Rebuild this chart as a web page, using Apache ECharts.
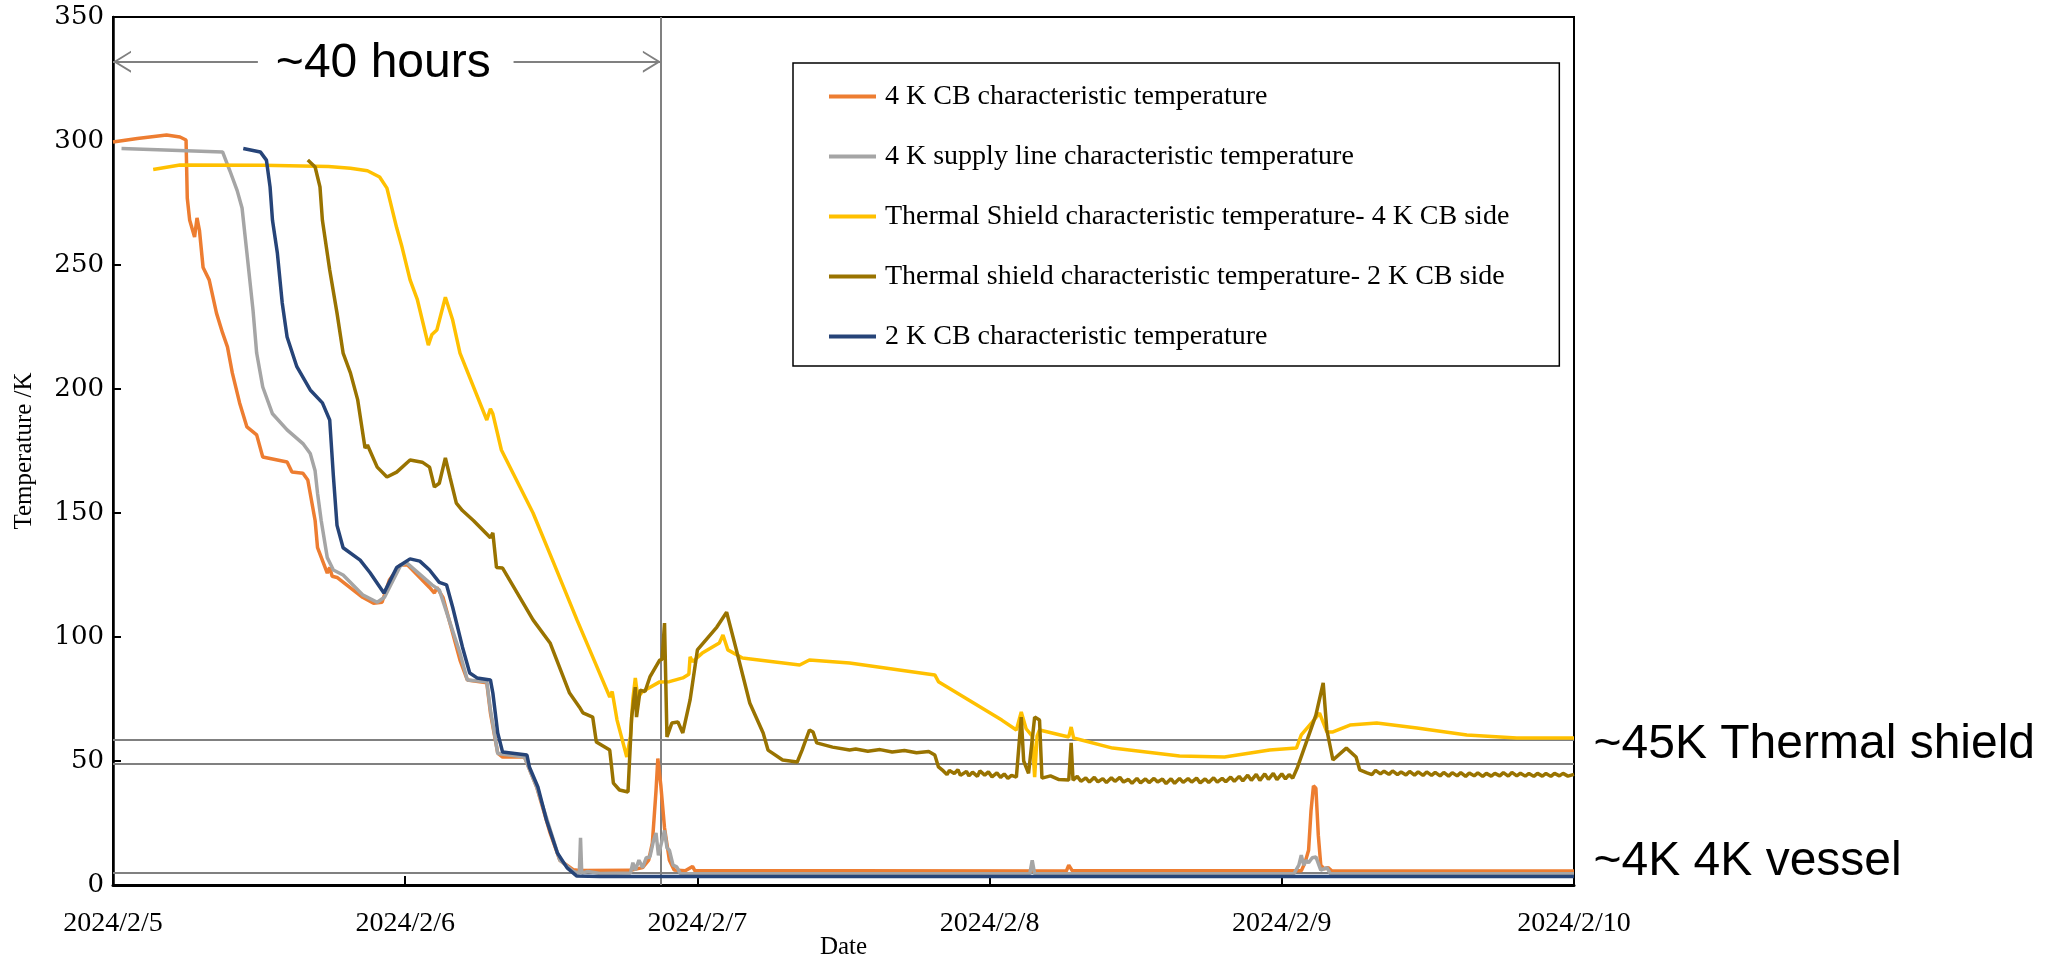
<!DOCTYPE html>
<html>
<head>
<meta charset="utf-8">
<title>Cool-down characteristic temperatures</title>
<script src="https://cdn.jsdelivr.net/npm/echarts@6/dist/echarts.min.js"></script>
<style>
    html, body { margin: 0; padding: 0; background: #fff; }
    #main { width: 2056px; height: 963px; }
</style>
</head>
<body>
<div id="main"></div>
<script>
// x values are hours since 2024/2/5 00:00, y values are Kelvin
const dateLabels = ['2024/2/5', '2024/2/6', '2024/2/7', '2024/2/8', '2024/2/9', '2024/2/10'];
const seriesNames = [
    '4 K CB characteristic temperature',
    '4 K supply line characteristic temperature',
    'Thermal Shield characteristic temperature- 4 K CB side',
    'Thermal shield characteristic temperature- 2 K CB side',
    '2 K CB characteristic temperature'
];

const cb4kTemp = [
    [0, 299.6], [2, 301], [4.4, 302.4], [5.5, 301.6], [6.0, 300.4], [6.1, 277], [6.3, 268], [6.7, 261.3],
    [6.9, 269], [7.1, 264], [7.4, 249], [7.9, 244], [8.5, 230.6], [9.0, 222.6], [9.4, 217], [9.8, 206.5],
    [10.4, 194.4], [11.0, 184.7], [11.8, 181.5], [12.3, 172.6], [14.3, 170.6], [14.7, 166.5], [15.6, 166],
    [16.0, 163.3], [16.6, 147], [16.8, 136], [17.6, 125.8], [17.8, 128], [18.0, 124.5], [18.4, 124],
    [20.5, 116], [21.4, 113.6], [22.1, 114], [22.7, 123], [23.6, 129], [24.2, 129], [26.0, 120],
    [26.4, 117.7], [26.6, 120], [27.1, 116], [28.5, 90.7], [29.1, 82.7], [30.7, 81.5], [31.0, 69.4],
    [31.6, 53.2], [32.0, 51.6], [33.8, 51.6], [34.8, 39.5], [35.9, 21], [36.7, 10], [37.8, 6.2], [38.5, 5.8],
    [42.5, 5.9], [43.5, 7], [44.0, 10], [44.3, 17], [44.6, 38], [44.75, 51], [45.0, 40], [45.3, 23],
    [45.7, 10], [46.1, 6], [47.0, 5.7], [47.6, 7.5], [47.8, 5.7], [60, 5.7], [78.3, 5.6], [78.5, 8],
    [78.8, 5.7], [97.6, 5.7], [97.9, 9], [98.2, 14], [98.4, 30], [98.6, 40], [98.8, 39], [99.0, 20],
    [99.2, 8], [99.5, 6.5], [99.8, 7], [100.1, 5.7], [120, 5.6]
];

const supplyLineTemp = [
    [0.7, 297], [9.0, 295.6], [9.6, 288], [10.2, 280], [10.6, 273], [11.0, 254.8], [11.5, 231.8],
    [11.8, 214.5], [12.3, 200.8], [13.1, 190], [14.3, 183.5], [15.6, 178], [16.2, 174], [16.6, 167],
    [16.8, 158], [17.1, 147], [17.6, 132], [18.1, 127], [18.9, 125], [20.5, 117], [21.7, 114], [22.3, 116],
    [23.6, 128.6], [24.1, 130], [26.2, 121], [26.8, 119], [28.5, 93.5], [29.1, 82.7], [30.7, 82],
    [31.0, 70.6], [31.6, 53], [33.8, 51.6], [34.8, 39.5], [35.9, 22.5], [36.7, 10], [37.8, 5.5],
    [38.3, 4.8], [38.4, 19], [38.5, 4.8], [39, 5.5], [40, 4.6], [42.5, 4.8], [42.7, 9], [42.9, 6],
    [43.2, 10], [43.5, 7], [43.8, 11], [44.1, 11.3], [44.4, 18], [44.6, 21], [44.8, 12], [45.0, 16],
    [45.3, 22], [45.5, 15], [45.7, 14], [46.0, 8], [46.3, 7.3], [46.6, 4.6], [60, 4.5], [75.3, 4.5],
    [75.5, 10], [75.7, 4.5], [97.0, 4.6], [97.4, 8], [97.6, 12], [97.8, 8], [98.0, 10], [98.2, 9],
    [98.5, 11], [98.8, 11.3], [99.2, 6], [99.7, 7], [100, 4.5], [120, 4.5]
];

const shield4kSideTemp = [
    [3.3, 288.5], [5.5, 290.3], [12.3, 290.2], [17.7, 289.7], [19.5, 289], [20.9, 288], [21.9, 285.5],
    [22.5, 281], [23.3, 265], [23.7, 258], [24.4, 244], [25.0, 236], [25.9, 217.7], [26.2, 222],
    [26.6, 223.8], [27.3, 237], [27.9, 227.8], [28.5, 214.5], [30.7, 187.5], [31.0, 192], [31.2, 190],
    [31.9, 175.4], [34.5, 150], [36.1, 131], [38.1, 107], [39.4, 92], [40.8, 75.8], [41.0, 78],
    [41.4, 66.5], [42.2, 51.6], [42.5, 60], [42.7, 75], [42.9, 83.5], [43.1, 75.8], [43.5, 78],
    [44.9, 81.9], [45.7, 82], [46.8, 83.5], [47.3, 85], [47.4, 92], [47.6, 90], [48.4, 93.5],
    [49.8, 97.6], [50.1, 100.8], [50.5, 94.8], [51.7, 91.5], [56.4, 88.7], [57.2, 90.7], [60.5, 89.5],
    [67.5, 84.7], [67.8, 82], [73.0, 66.5], [74.2, 62.5], [74.6, 69.8], [75.0, 63], [75.5, 60],
    [75.7, 43.5], [75.9, 60], [76.1, 62.5], [78.5, 59.7], [78.7, 63.7], [78.9, 59.3], [82.1, 55.2],
    [87.6, 52], [91.3, 51.6], [95.0, 54.4], [97.2, 55.2], [97.6, 60.5], [98.5, 65.7], [99.1, 69.3],
    [99.7, 61.7], [100.2, 61.7], [101.6, 64.5], [103.8, 65.3], [107.1, 63.3], [111.2, 60.5],
    [115.3, 59.3], [120, 59.3]
];

const shield2kSideTemp = [
    [16.0, 292.3], [16.6, 289.5], [17.0, 281.5], [17.2, 268], [17.8, 248], [18.4, 230.6], [18.9, 214.5],
    [19.5, 206.5], [20.1, 195.6], [20.7, 176.2], [20.9, 177.4], [21.7, 168.5], [22.5, 164.5],
    [23.3, 166.5], [24.4, 171.4], [25.4, 170.5], [26.0, 168.5], [26.4, 160.5], [26.8, 162], [27.3, 172.2],
    [27.7, 164], [28.2, 154], [28.7, 151], [29.6, 147], [31.0, 140], [31.2, 142], [31.5, 128], [32.0, 127.8],
    [34.5, 106.9], [35.9, 97.6], [37.5, 77.4], [38.3, 71.8], [38.6, 69.4], [39.4, 67.7], [39.7, 57.7],
    [40.8, 54.4], [41.1, 41.1], [41.6, 38.3], [42.3, 37.5], [42.6, 67.7], [42.9, 79.8], [43.0, 67.7],
    [43.3, 78.6], [43.7, 78], [44.1, 83.9], [44.9, 90.7], [45.1, 91], [45.3, 105.6], [45.5, 59.7],
    [45.9, 65.3], [46.4, 65.7], [46.8, 61.3], [47.4, 74.6], [48.0, 94.8], [49.6, 104], [50.4, 110],
    [51.2, 94.8], [52.3, 73.4], [53.4, 61.3], [53.8, 54.4], [55.0, 50.4], [56.2, 49.6], [56.6, 54.4],
    [57.2, 62.5], [57.5, 61.7], [57.8, 57.3], [59.1, 55.6], [60.5, 54.4], [61, 54.8], [62, 53.9],
    [63, 54.6], [64, 53.6], [65, 54.2], [66, 53.3], [67, 53.8], [67.5, 52.4], [67.8, 47.6], [68.2, 46],
    [68.5, 44.5], [68.7, 46.2], [69.1, 45], [69.4, 46.5], [69.6, 44.2], [70.1, 45.8], [70.3, 44],
    [70.6, 45.5], [71.0, 43.8], [71.2, 46], [71.6, 44.3], [71.9, 45.6], [72.2, 43.6], [72.6, 45.2],
    [72.9, 43.4], [73.2, 44.8], [73.5, 43], [73.8, 44.2], [74.2, 43.5], [74.6, 67.7],
    [74.8, 50], [75.2, 45], [75.7, 67.7], [76.1, 66.5], [76.3, 43.1], [77, 44], [77.7, 42.5], [78.5, 42.3],
    [78.7, 57.3], [78.85, 42.3], [79.2, 43.8], [79.5, 41.8], [79.9, 43.2], [80.2, 41.5], [80.6, 43.4],
    [80.9, 41.6], [81.3, 42.9], [81.6, 41.3], [82.0, 43.2], [82.3, 41.8], [82.7, 43.4], [83, 41.5],
    [83.4, 42.6], [83.7, 41], [84.1, 43], [84.4, 41.2], [84.8, 42.8], [85.1, 41.3], [85.5, 43],
    [85.8, 41.5], [86.2, 42.7], [86.5, 40.9], [86.9, 42.8], [87.2, 41], [87.6, 43], [87.9, 41.4],
    [88.3, 42.9], [88.6, 41.5], [89.0, 43.1], [89.3, 41.2], [89.7, 42.8], [90, 41.3], [90.4, 43.2],
    [90.7, 41.5], [91.1, 43], [91.4, 41.6], [91.8, 43.5], [92.1, 41.8], [92.5, 43.8], [92.8, 42],
    [93.2, 44.3], [93.5, 42.2], [93.9, 44.6], [94.2, 42.2], [94.6, 44.8], [94.9, 42.6], [95.3, 45],
    [95.6, 42.5], [96.0, 44.8], [96.3, 42.8], [96.6, 44.5], [96.9, 43.1], [97.3, 47.6], [98.8, 68.5],
    [99.4, 81.5], [99.7, 62.5], [100.2, 50.4], [101.3, 55.2], [102.1, 51.6], [102.4, 46.4], [103, 45.2],
    [103.4, 44.5], [103.7, 46.2], [104.1, 44.8], [104.4, 45.9], [104.8, 44.6], [105.1, 46], [105.5, 44.5],
    [105.8, 45.6], [106.2, 44.4], [106.5, 45.8], [106.9, 44.3], [107.2, 45.6], [107.6, 44.2], [107.9, 45.6],
    [108.3, 44.2], [108.6, 45.4], [109.0, 44], [109.3, 45.4], [109.7, 43.9], [110, 45.3], [110.4, 44],
    [110.7, 45.3], [111.1, 43.8], [111.4, 45.2], [111.8, 44], [112.1, 45.2], [112.5, 43.8], [112.8, 45],
    [113.2, 43.9], [113.5, 45], [113.9, 44], [114.2, 45.3], [114.6, 43.9], [114.9, 45.4], [115.3, 44],
    [115.6, 45.1], [116.0, 43.9], [116.3, 45], [116.7, 43.8], [117, 45], [117.4, 43.9], [117.7, 45],
    [118.1, 43.8], [118.4, 45], [118.8, 44], [119.1, 45], [119.5, 43.9], [120, 44.6]
];

const cb2kTemp = [
    [10.7, 297], [12.1, 295.6], [12.6, 292.3], [12.9, 281.5], [13.1, 268], [13.5, 254.8], [13.9, 234.7],
    [14.3, 221], [15.1, 209], [16.2, 199.6], [17.2, 194.4], [17.8, 187.5], [18.1, 165], [18.4, 145],
    [18.9, 136], [20.3, 131], [21.1, 126], [22.25, 117.7], [23.3, 128], [24.4, 131.5], [25.2, 130.6],
    [26.0, 127], [26.8, 122], [27.4, 121], [27.9, 112], [28.7, 96], [29.3, 85.5], [29.9, 83.5], [31.0, 82.7],
    [31.2, 77.4], [31.6, 61.3], [32.0, 53.6], [34.0, 52.4], [34.2, 47.6], [34.9, 39.5], [35.6, 26.2],
    [36.5, 12.9], [37.3, 6.9], [38.1, 3.6], [40, 3.4], [120, 3.4]
];

// reference levels and the vertical marker drawn in grey
const refLevels = [58.5, 48.8, 4.8];
const markerHour = 45;
const arrowLevel = 332;
const arrowGap = [11.9, 32.9];
const notes = [
    { text: '~40 hours', hour: 22.2, temp: 331 },
    { text: '~45K Thermal shield', hour: 120, temp: 56.5 },
    { text: '~4K 4K vessel', hour: 120, temp: 9.3 }
];

const colors = ['#ED7D31', '#A5A5A5', '#FFC000', '#997300', '#264478'];
const chevron = 'path://M10,0L20,14L18,14L10,2.8L2,14L0,14Z';

function buildMarkLine() {
    var lines = refLevels.map(function (v) { return { yAxis: v }; });
    lines.push({ xAxis: markerHour });
    var arrowEnd = { symbol: chevron, symbolSize: [22, 18], symbolOffset: [0, 9] };
    lines.push([{ coord: [arrowGap[0], arrowLevel] }, Object.assign({ coord: [0, arrowLevel] }, arrowEnd)]);
    lines.push([{ coord: [arrowGap[1], arrowLevel] }, Object.assign({ coord: [markerHour, arrowLevel] }, arrowEnd)]);
    return {
        silent: true,
        z: 1,
        symbol: 'none',
        label: { show: false },
        lineStyle: { color: '#808080', width: 2, type: 'solid' },
        emphasis: { disabled: true },
        data: lines
    };
}

function buildMarkPoint() {
    return {
        silent: true,
        symbol: 'circle',
        symbolSize: 1,
        itemStyle: { color: 'rgba(0,0,0,0)' },
        data: notes.map(function (n, i) {
            return {
                name: n.text,
                coord: [n.hour, n.temp],
                label: {
                    show: true,
                    formatter: '{b}',
                    position: i === 0 ? 'inside' : 'right',
                    distance: 19,
                    color: '#000',
                    fontFamily: 'Liberation Sans',
                    fontSize: 48
                }
            };
        })
    };
}

function displayChart() {
    var chartDom = document.getElementById('main');
    var myChart = echarts.init(chartDom, null, { renderer: 'canvas' });
    var allData = [cb4kTemp, supplyLineTemp, shield4kSideTemp, shield2kSideTemp, cb2kTemp];

    var series = allData.map(function (d, i) {
        return {
            name: seriesNames[i],
            type: 'line',
            data: d,
            symbol: 'none',
            showSymbol: false,
            color: colors[i],
            lineStyle: { width: 3.5, color: colors[i] },
            emphasis: { disabled: true },
            animation: false
        };
    });
    series[4].markLine = buildMarkLine();
    series[4].markPoint = buildMarkPoint();

    var serif = 'Liberation Serif';
    var option = {
        backgroundColor: '#fff',
        animation: false,
        grid: {
            left: 113, right: 482, top: 17, bottom: 78,
            containLabel: false,
            outerBoundsMode: 'none',
            show: true,
            borderColor: '#000',
            borderWidth: 2,
            backgroundColor: 'transparent'
        },
        legend: {
            data: seriesNames,
            orient: 'vertical',
            left: 793,
            top: 63,
            padding: [19, 50, 15, 36],
            itemGap: 31,
            itemWidth: 47,
            itemHeight: 4,
            icon: 'rect',
            borderColor: '#000',
            borderWidth: 1.5,
            borderRadius: 0,
            backgroundColor: '#fff',
            selectedMode: false,
            textStyle: { fontFamily: serif, fontSize: 28, color: '#000', lineHeight: 29, padding: [0, 0, 0, 4] }
        },
        xAxis: {
            type: 'value',
            min: 0,
            max: 120,
            interval: 24,
            name: 'Date',
            nameLocation: 'middle',
            nameGap: 50,
            nameMoveOverlap: false,
            nameTextStyle: { fontFamily: serif, fontSize: 25, color: '#000' },
            axisLine: { show: true, lineStyle: { color: '#000', width: 3 } },
            axisTick: { show: true, inside: true, length: 9, lineStyle: { color: '#000', width: 2 } },
            axisLabel: {
                margin: 25,
                fontFamily: serif,
                fontSize: 28,
                color: '#000',
                formatter: function (v) { return dateLabels[Math.round(v / 24)]; }
            },
            splitLine: { show: false }
        },
        yAxis: {
            type: 'value',
            min: 0,
            max: 350,
            interval: 50,
            name: 'Temperature /K',
            nameLocation: 'middle',
            nameGap: 76,
            nameTextStyle: { fontFamily: serif, fontSize: 25, color: '#000' },
            axisLine: { show: true, lineStyle: { color: '#000', width: 2.5 } },
            axisTick: { show: true, inside: true, length: 8, lineStyle: { color: '#000', width: 2 } },
            axisLabel: { margin: 9, fontFamily: 'DejaVu Serif', fontSize: 26, color: '#000' },
            splitLine: { show: false }
        },
        series: series
    };
    myChart.setOption(option);
}
displayChart();
</script>
</body>
</html>
